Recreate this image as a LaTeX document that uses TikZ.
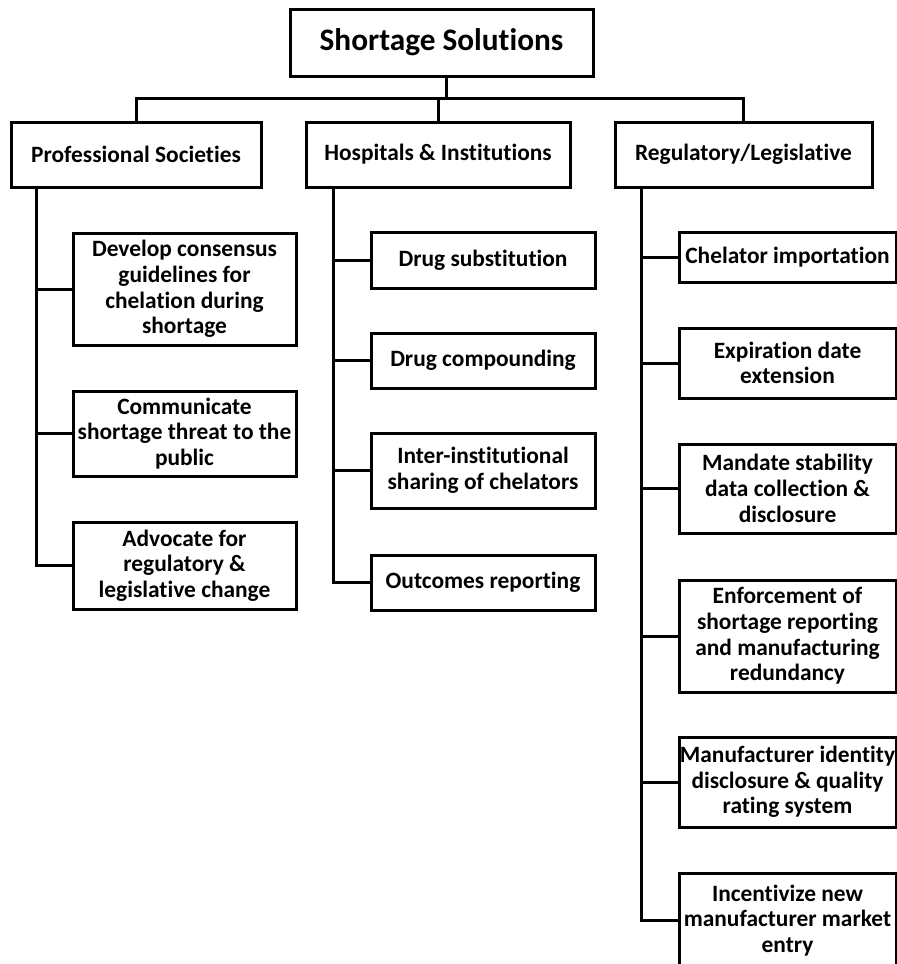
\documentclass[tikz,border=0pt]{standalone}
\usepackage{fontspec}
\setmainfont{Carlito}[Ligatures=NoCommon]
\begin{document}
\begin{tikzpicture}[x=1pt,y=-1pt,
  box/.style={draw=black,line width=3pt,fill=white,inner sep=0pt,align=center,
    font=\bfseries\fontsize{23.4}{25.7}\selectfont},
  link/.style={draw=black,line width=3pt}]
\useasboundingbox (0,0) rectangle (897,964);
\clip (0,0) rectangle (897,964);
% top
\node[box,minimum width=303pt,minimum height=67pt,font=\bfseries\fontsize{31.3}{34}\selectfont] (top) at (441.5,42.5) {Shortage Solutions};
% level 2
\node[box,minimum width=250pt,minimum height=65pt] (ps) at (136,154.5) {Professional Societies};
\node[box,minimum width=264pt,minimum height=65pt] (hi) at (438,154.5) {Hospitals \& Institutions};
\node[box,minimum width=257pt,minimum height=65pt] (rl) at (743.5,154.5) {Regulatory/Legislative};
% left column
\node[box,minimum width=223pt,minimum height=112pt] (d1) at (184.5,289) {Develop consensus\\guidelines for\\chelation during\\shortage};
\node[box,minimum width=223pt,minimum height=85pt] (d2) at (184.5,433.5) {Communicate\\shortage threat to the\\public};
\node[box,minimum width=223pt,minimum height=87pt] (d3) at (184.5,565.5) {Advocate for\\regulatory \&\\legislative change};
% middle column
\node[box,minimum width=224pt,minimum height=56pt] (m1) at (483,260) {Drug substitution};
\node[box,minimum width=224pt,minimum height=55pt] (m2) at (483,360.5) {Drug compounding};
\node[box,minimum width=224pt,minimum height=75pt] (m3) at (483,470.5) {Inter-institutional\\sharing of chelators};
\node[box,minimum width=224pt,minimum height=55pt] (m4) at (483,582.5) {Outcomes reporting};
% right column
\node[box,minimum width=217pt,minimum height=50pt] (r1) at (787.5,257) {Chelator importation};
\node[box,minimum width=217pt,minimum height=70pt] (r2) at (787.5,363) {Expiration date\\extension};
\node[box,minimum width=217pt,minimum height=89pt] (r3) at (787.5,488.5) {Mandate stability\\data collection \&\\disclosure};
\node[box,minimum width=217pt,minimum height=112pt] (r4) at (787.5,636) {Enforcement of\\shortage reporting\\and manufacturing\\redundancy};
\node[box,minimum width=217pt,minimum height=90pt] (r5) at (787.5,782) {Manufacturer identity\\disclosure \& quality\\rating system};
\node[box,minimum width=217pt,minimum height=95pt] (r6) at (787.5,920.5) {Incentivize new\\manufacturer market\\entry};
% top connectors
\coordinate (bus) at (446,98);
\draw[link] ([xshift=4.5pt]top.south) -- (bus);
\draw[link] (ps.north) |- (bus) -| (rl.north);
\draw[link] (hi.north) -- (hi.north |- bus);
% trunks
\coordinate (tl) at (36,187);
\coordinate (tm) at (333,187);
\coordinate (tr) at (641,187);
\draw[link] (tl) |- (d3.west);
\draw[link] (d1.west) -- (d1.west -| tl);
\draw[link] (d2.west) -- (d2.west -| tl);
\draw[link] (tm) |- (m4.west);
\draw[link] (m1.west) -- (m1.west -| tm);
\draw[link] (m2.west) -- (m2.west -| tm);
\draw[link] (m3.west) -- (m3.west -| tm);
\draw[link] (tr) |- (r6.west);
\draw[link] (r1.west) -- (r1.west -| tr);
\draw[link] (r2.west) -- (r2.west -| tr);
\draw[link] (r3.west) -- (r3.west -| tr);
\draw[link] (r4.west) -- (r4.west -| tr);
\draw[link] (r5.west) -- (r5.west -| tr);
\end{tikzpicture}
\end{document}
